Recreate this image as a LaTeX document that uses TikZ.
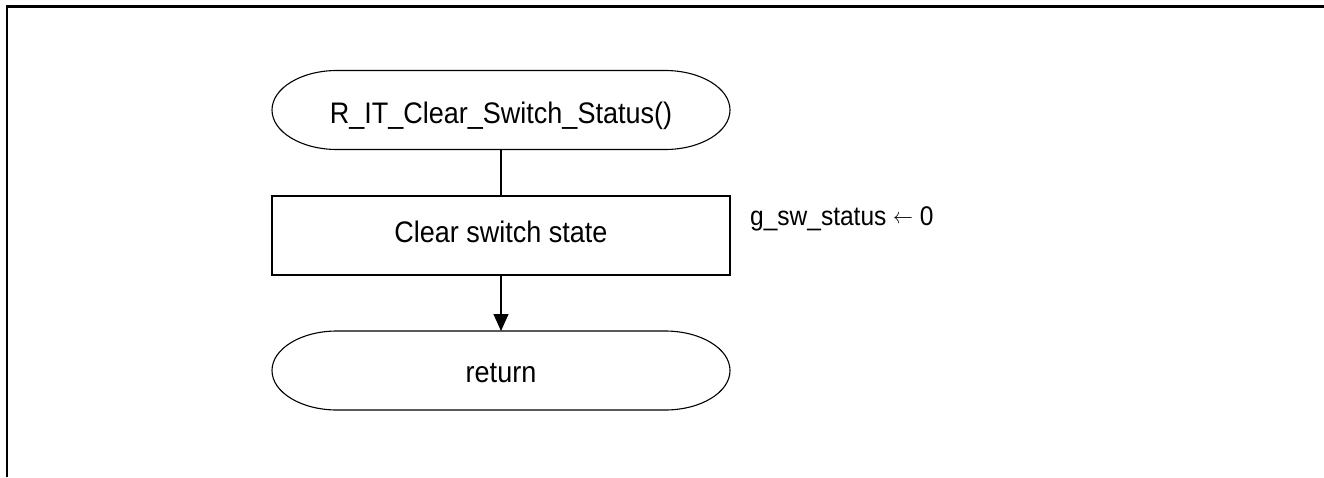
\documentclass[tikz,border=0pt]{standalone}
\usepackage{fontspec}
\setmainfont{Liberation Sans}
\usetikzlibrary{arrows.meta}
\newcommand{\tallt}[1]{\scalebox{1}[1.1]{#1}}
\begin{document}
\begin{tikzpicture}[x=1pt,y=1pt,
  frameline/.style={line width=2.2pt},
  flowline/.style={line width=1.1pt},
  shapebox/.style={minimum width=458pt,minimum height=79pt,inner sep=0pt,outer sep=0pt,
    font=\fontsize{27}{32}\selectfont,text depth=0pt},
  note/.style={font=\fontsize{24.5}{29}\selectfont,inner sep=0pt,anchor=base west}]
\useasboundingbox (0,0) rectangle (1324,-477);
\draw[frameline] (7,-477) -- (7,-6.5) -- (1324,-6.5);
% nodes
\node[shapebox,text height=26pt] (start) at (501,-110) {\tallt{R\_IT\_Clear\_Switch\_Status()}};
\node[shapebox,draw,flowline,text height=13pt] (clear) at (501,-235.5) {\tallt{Clear switch state}};
\node[shapebox,text height=23pt] (ret) at (501,-370.5) {\tallt{return}};
\node[note] (anno) at (750,-225) {\tallt{g\_sw\_status \raisebox{1pt}{\scalebox{0.8}{$\leftarrow$}} 0}};
% terminal outlines
\foreach \n in {start,ret}{
  \draw[flowline] ([xshift=65pt]\n.north west) -- ([xshift=-65pt]\n.north east)
    arc[start angle=90,end angle=-90,x radius=65pt,y radius=39.5pt]
    -- ([xshift=65pt]\n.south west)
    arc[start angle=270,end angle=90,x radius=65pt,y radius=39.5pt] -- cycle;
}
% connectors
\draw[flowline] (start.south) -- (clear.north);
\draw[flowline,-{Triangle[length=17pt,width=15pt]}] (clear.south) -- (ret.north);
\end{tikzpicture}
\end{document}
